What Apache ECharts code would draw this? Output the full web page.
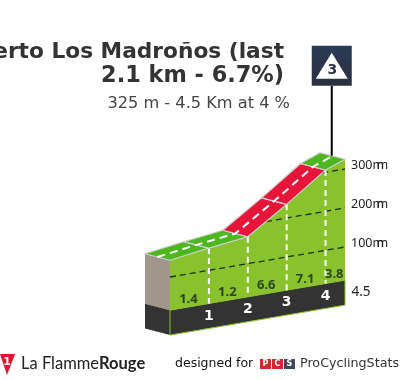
<!DOCTYPE html>
<html><head><meta charset="utf-8">
<style>html,body{margin:0;padding:0;background:#fff;overflow:hidden}#c{width:405px;height:380px}</style>
<script src="https://cdn.jsdelivr.net/npm/echarts@6/dist/echarts.min.js"></script>
</head><body><div id="c"></div>
<script>
const kms = [0, 1, 2, 3, 4, 4.5];
const elevations = [143, 157, 169, 235, 306, 325];
const gradients = ['1.4', '1.2', '6.6', '7.1', '3.8'];
const kmLabels = ['1', '2', '3', '4'];
const levels = [100, 200, 300];
const endLabel = '4.5';
const titleLines = ['Puerto Los Madroños (last', '2.1 km - 6.7%)'];
const subText = '325 m - 4.5 Km at 4 %';
const category = '3';

const SHEAR = 30 / 175, DX = 25, DY = 6.5, BASE_TOP = 15, BASE_BOTTOM = -49;
const END = kms[kms.length - 1];
const GREEN = '#4cb71f', RED = '#e8153b', WALL = '#88c22d', ROCK = '#a1968a', DARK = '#333333', EDGE = '#cfcfcf';

function projector(api) {
  const xEnd = api.coord([END, 0])[0];
  return (km, ele, d) => {
    const p = api.coord([km, ele]);
    d = d || 0;
    return [p[0] - DX * d, p[1] + SHEAR * (xEnd - p[0]) - DY * d];
  };
}
function crossing(level) {
  for (let i = 0; i < kms.length - 1; i++) {
    if (elevations[i] <= level && elevations[i + 1] >= level) {
      return kms[i] + (level - elevations[i]) / (elevations[i + 1] - elevations[i]) * (kms[i + 1] - kms[i]);
    }
  }
  return 0;
}
const poly = (points, fill, stroke, lw) => ({type: 'polygon', shape: {points}, style: {fill, stroke: stroke || null, lineWidth: lw || 0}});
const dash = (points, stroke, lw, d) => ({type: 'polyline', shape: {points}, style: {fill: null, stroke, lineWidth: lw, lineDash: d}});
const txt = (x, y, text, font, fill) => ({type: 'text', style: {x, y, text, font, fill, align: 'center', verticalAlign: 'middle'}});
const layer = (name, data, fn) => ({
  type: 'custom', name, coordinateSystem: 'cartesian2d', clip: false, silent: true, animation: false,
  encode: {x: 0, y: 1}, data,
  renderItem: (params, api) => fn(params.dataIndex, projector(api), api)
});

const profilePoints = kms.map((k, i) => [k, elevations[i]]);

const series = [
  layer('body', [[0, 0]], (i, P) => ({type: 'group', children: [
    poly([P(0, elevations[0], 1), P(0, elevations[0]), P(0, BASE_TOP), P(0, BASE_TOP, 1)], ROCK),
    poly([P(0, BASE_TOP, 1), P(0, BASE_TOP), P(0, BASE_BOTTOM), P(0, BASE_BOTTOM, 1)], DARK),
    poly(profilePoints.map(p => P(p[0], p[1])).concat([P(END, BASE_TOP), P(0, BASE_TOP)]), WALL),
    poly([P(0, BASE_TOP), P(END, BASE_TOP), P(END, BASE_BOTTOM), P(0, BASE_BOTTOM)], DARK, WALL, 1)
  ]})),
  layer('levels', levels.map(l => [END, l]), (i, P) => {
    const l = levels[i];
    return dash([P(crossing(l), l), P(END, l)], '#1f2f12', 1.3, [6, 4]);
  }),
  layer('splits', kmLabels.map((k, i) => [kms[i + 1], elevations[i + 1]]), (i, P) =>
    dash([P(kms[i + 1], elevations[i + 1]), P(kms[i + 1], BASE_TOP)], '#ffffff', 2, [6, 4])),
  layer('road', gradients.map((g, i) => [kms[i], elevations[i]]), (i, P) =>
    poly([P(kms[i], elevations[i]), P(kms[i + 1], elevations[i + 1]), P(kms[i + 1], elevations[i + 1], 1), P(kms[i], elevations[i], 1)],
      parseFloat(gradients[i]) >= 6 ? RED : GREEN, EDGE, 1.2)),
  layer('centre', [[0, elevations[0]]], (i, P) =>
    dash(profilePoints.map(p => P(p[0], p[1], 0.5)), '#ffffff', 2, [8, 5])),
  layer('gradients', gradients.map((g, i) => [kms[i], BASE_TOP]), (i, P) => {
    const p = P((kms[i] + kms[i + 1]) / 2, BASE_TOP);
    return txt(p[0] - 1, p[1] - 8, gradients[i], 'bold 13px "Noto Sans"', '#2f4420');
  }),
  layer('kms', kmLabels.map((k, i) => [kms[i + 1], BASE_TOP]), (i, P) => {
    const p = P(kms[i + 1], BASE_TOP);
    return txt(p[0], p[1] + 12.5, kmLabels[i], 'bold 14px "DejaVu Sans"', '#ffffff');
  }),
  layer('end', [[END, 0]], (i, P) => {
    const p = P(END, 0);
    return txt(p[0] + 16, p[1] + 6, endLabel, '13.5px "Noto Sans"', '#222');
  }),
  layer('climb', [[END, elevations[elevations.length - 1]]], (i, P) => {
    const s = P(END, elevations[elevations.length - 1], 0.55);
    const cx = s[0] + 0.5, top = s[1] - 70;
    return {type: 'group', children: [
      {type: 'line', shape: {x1: cx, y1: s[1], x2: cx, y2: top}, style: {stroke: '#000', lineWidth: 2}},
      {type: 'rect', shape: {x: cx - 20, y: top - 40, width: 40, height: 40},
        style: {fill: {type: 'linear', x: 0, y: 0, x2: 0, y2: 1, colorStops: [{offset: 0, color: '#2a3a55'}, {offset: 1, color: '#2a3040'}]}}},
      poly([[cx, top - 33], [cx + 16, top - 7], [cx - 16, top - 7]], '#ffffff'),
      txt(cx + 0.5, top - 15, category, 'bold 14px "DejaVu Sans"', '#2a3448')
    ]};
  })
];

const headerText = (x, y, text, font, fill) => ({type: 'text', style: {x, y, text, font, fill, align: 'right', verticalAlign: 'middle'}});
const graphics = [
  headerText(284, 52, titleLines[0], 'bold 21.7px "DejaVu Sans"', '#333'),
  headerText(284, 76, titleLines[1], 'bold 22.4px "DejaVu Sans"', '#333'),
  headerText(290, 104, subText, '16.2px "DejaVu Sans"', '#444'),
  {type: 'polygon', shape: {points: [[0, 354], [15, 354], [7, 375]]}, style: {fill: '#e0122f'}},
  {type: 'text', style: {x: 7, y: 362, text: '1', font: 'bold 11px "DejaVu Sans"', fill: '#fff', align: 'center', verticalAlign: 'middle'}},
  {type: 'text', style: {x: 21, y: 364, font: '16.5px Lato', verticalAlign: 'middle', fill: '#222',
    text: '{a|La Flamme}{b|Rouge}', rich: {a: {font: '16.5px Lato', fill: '#222'}, b: {font: 'bold 16.5px Lato', fill: '#222'}}}},
  {type: 'text', style: {x: 175, y: 364, text: 'designed for', font: '12.5px "DejaVu Sans"', fill: '#111', verticalAlign: 'middle'}},
  {type: 'rect', shape: {x: 260, y: 359, width: 11, height: 10}, style: {fill: '#d8262f'}},
  {type: 'rect', shape: {x: 272, y: 359, width: 11, height: 10}, style: {fill: '#d8262f'}},
  {type: 'rect', shape: {x: 284, y: 359, width: 11, height: 10}, style: {fill: '#3a4a58'}},
  {type: 'text', style: {x: 265.5, y: 364, text: 'P', font: 'bold 8px "DejaVu Sans"', fill: '#fff', align: 'center', verticalAlign: 'middle'}},
  {type: 'text', style: {x: 277.5, y: 364, text: 'C', font: 'bold 8px "DejaVu Sans"', fill: '#fff', align: 'center', verticalAlign: 'middle'}},
  {type: 'text', style: {x: 289.5, y: 364, text: 'S', font: 'bold 8px "DejaVu Sans"', fill: '#fff', align: 'center', verticalAlign: 'middle'}},
  {type: 'text', style: {x: 300, y: 364, text: 'ProCyclingStats', font: '12.7px "DejaVu Sans"', fill: '#333', verticalAlign: 'middle'}}
];

const chart = echarts.init(document.getElementById('c'), null, {renderer: 'canvas'});
chart.setOption({
  animation: false,
  backgroundColor: '#fff',
  grid: {left: 170, right: 60, top: 130, bottom: 55},
  xAxis: {type: 'value', min: 0, max: END, show: false},
  yAxis: {
    type: 'value', min: -100, max: 400, interval: 100, position: 'right',
    axisLine: {show: false}, axisTick: {show: false}, splitLine: {show: false},
    axisLabel: {
      margin: 6, padding: [0, 0, 8, 0], color: '#222', fontFamily: 'Noto Sans', fontSize: 12.5,
      formatter: v => levels.includes(v) ? `${v}{m|m}` : '',
      rich: {m: {fontFamily: 'Noto Sans', fontSize: 12.5, color: '#222', textShadowColor: '#222', textShadowOffsetX: 4, textShadowBlur: 0.5}}
    }
  },
  series,
  graphic: graphics
});
</script></body></html>
